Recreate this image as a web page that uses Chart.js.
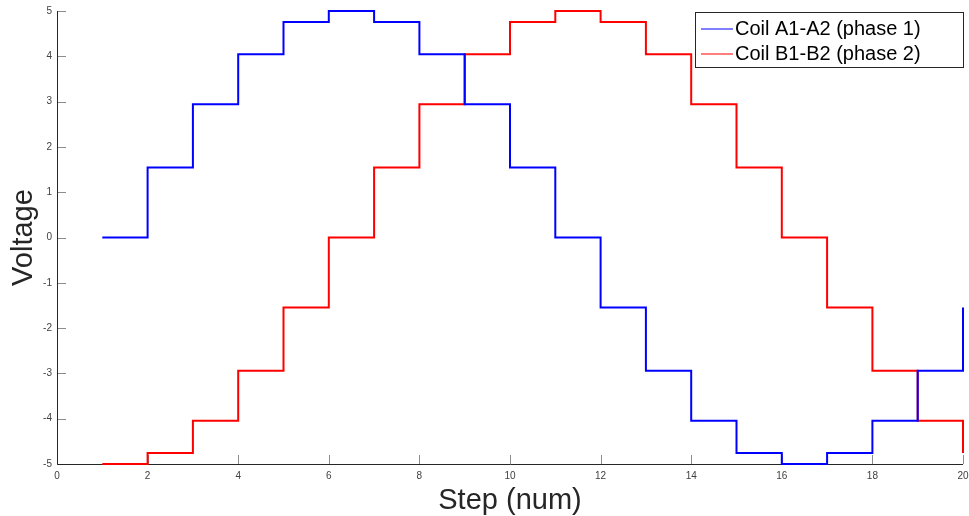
<!DOCTYPE html>
<html>
<head>
<meta charset="utf-8">
<script src="https://cdn.jsdelivr.net/npm/chart.js@4"></script>
<style>
  html, body { margin: 0; padding: 0; background: #fff; }
  #wrap { width: 969px; height: 516px; }
</style>
</head>
<body>
<div id="wrap"><canvas id="chartSteps"></canvas></div>
<script>
const steps = [1, 2, 3, 4, 5, 6, 7, 8, 9, 10, 11, 12, 13, 14, 15, 16, 17, 18, 19, 20]
const coilA = [0, 1.545, 2.939, 4.045, 4.755, 5, 4.755, 4.045, 2.939, 1.545,
               0, -1.545, -2.939, -4.045, -4.755, -5, -4.755, -4.045, -2.939, -1.545]
const coilB = [-5, -4.755, -4.045, -2.939, -1.545, 0, 1.545, 2.939, 4.045, 4.755,
               5, 4.755, 4.045, 2.939, 1.545, 0, -1.545, -2.939, -4.045, -4.755]
const seriesNames = ['Coil A1-A2 (phase 1)', 'Coil B1-B2 (phase 2)']
const seriesColors = ['#0000ff', '#ff0000']
const xTicks = [0, 2, 4, 6, 8, 10, 12, 14, 16, 18, 20]
const yTicks = [-5, -4, -3, -2, -1, 0, 1, 2, 3, 4, 5]

const FONT = '"Liberation Sans", Arial, Helvetica, sans-serif'

// axes + inside ticks (matlab style), under the lines
const insideTicks = {
    id: 'insideTicks',
    beforeDatasetsDraw(chart) {
        const { ctx, chartArea: a, scales: { x, y } } = chart
        ctx.save()
        ctx.strokeStyle = '#8c8c8c'
        ctx.lineWidth = 1
        ctx.beginPath()
        xTicks.forEach(v => {
            const px = Math.round(x.getPixelForValue(v)) + 0.5
            ctx.moveTo(px, a.bottom)
            ctx.lineTo(px, a.bottom - 9)
        })
        yTicks.forEach(v => {
            const py = Math.round(y.getPixelForValue(v)) + 0.5
            ctx.moveTo(a.left, py)
            ctx.lineTo(a.left + 9, py)
        })
        ctx.stroke()
        ctx.strokeStyle = '#262626'
        ctx.beginPath()
        ctx.moveTo(a.left + 0.5, a.top)
        ctx.lineTo(a.left + 0.5, a.bottom + 0.5)
        ctx.lineTo(a.right, a.bottom + 0.5)
        ctx.stroke()
        ctx.restore()
    },
    afterDatasetsDraw(chart) {
        const { ctx } = chart
        ctx.save()
        // legend box
        const lx = 695.5, ly = 12.5, lw = 268, lh = 55
        ctx.fillStyle = '#fff'
        ctx.fillRect(lx, ly, lw, lh)
        ctx.strokeStyle = '#262626'
        ctx.lineWidth = 1
        ctx.strokeRect(lx, ly, lw, lh)
        ctx.font = '20px ' + FONT
        ctx.textBaseline = 'middle'
        seriesNames.forEach((n, i) => {
            const yy = 28 + i * 25
            ctx.fillStyle = seriesColors[i]
            ctx.fillRect(701, yy + 0.5, 32, 1)
            ctx.fillStyle = '#000'
            ctx.fillText(n, 735, yy + 1)
        })
        ctx.restore()
    }
}

new Chart(document.getElementById('chartSteps'), {
    type: 'line',
    data: {
        labels: steps,
        datasets: seriesNames.map((n, i) => ({
            label: n,
            data: steps.map((s, k) => ({ x: s, y: [coilA, coilB][i][k] })),
            borderColor: seriesColors[i],
            borderWidth: 2,
            stepped: true,
            pointRadius: 0,
            fill: false,
            clip: 4
        }))
    },
    options: {
        responsive: true,
        maintainAspectRatio: false,
        animation: false,
        layout: { autoPadding: false, padding: { top: 11, right: 6, left: 0, bottom: 0 } },
        scales: {
            x: {
                type: 'linear',
                min: 0,
                max: 20,
                afterBuildTicks: s => { s.ticks = xTicks.map(v => ({ value: v })) },
                afterFit: s => { s.height = 52; s.paddingLeft = 0; s.paddingRight = 0 },
                grid: { display: false, drawTicks: false },
                border: { display: false },
                ticks: { color: '#404040', font: { family: FONT, size: 10 }, padding: 6, maxRotation: 0 },
                title: { display: true, text: 'Step (num)', color: '#262626', font: { family: FONT, size: 29 }, padding: { top: 0, bottom: -2 } }
            },
            y: {
                min: -5,
                max: 5,
                afterBuildTicks: s => { s.ticks = yTicks.map(v => ({ value: v })) },
                afterFit: s => { s.width = 57; s.paddingTop = 0; s.paddingBottom = 0 },
                grid: { display: false, drawTicks: false },
                border: { display: false },
                ticks: { color: '#404040', font: { family: FONT, size: 10 }, padding: 5 },
                title: { display: true, text: 'Voltage', color: '#262626', font: { family: FONT, size: 29 }, padding: { top: 7, bottom: 0 } }
            }
        },
        plugins: {
            legend: { display: false },
            tooltip: { enabled: false }
        }
    },
    plugins: [insideTicks]
})
</script>
</body>
</html>
